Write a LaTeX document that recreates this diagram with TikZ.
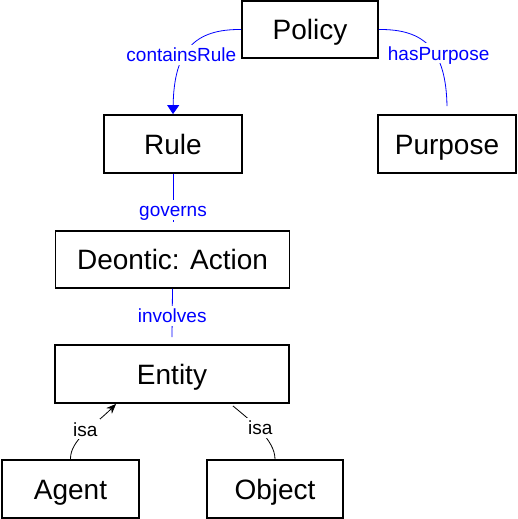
\documentclass[tikz,border=0pt]{standalone}
\usepackage{fontspec}
\setmainfont{Liberation Sans}
\usetikzlibrary{arrows.meta}
\begin{document}
\begin{tikzpicture}[x=1pt,y=-1pt,
  box/.style={draw,line width=1.8pt,fill=white,font=\fontsize{28}{34}\selectfont,inner sep=0pt,text height=20pt,text depth=0pt},
  lab/.style={fill=white,inner sep=3pt,font=\fontsize{19}{23}\selectfont,text height=14pt,text depth=0pt},
  rel/.style={draw=blue,line width=0.8pt},
  bluelab/.style={lab,text=blue},
  isarel/.style={draw=black,line width=0.8pt}]
\useasboundingbox (0,0) rectangle (517,519);
\node[box,minimum width=136pt,minimum height=57pt] (policy) at (310,29.5) {Policy};
\node[box,minimum width=138pt,minimum height=58pt] (rule) at (173,144) {Rule};
\node[box,minimum width=138pt,minimum height=58pt] (purpose) at (447,144) {Purpose};
\node[box,minimum width=234pt,minimum height=57pt] (deontic) at (172.5,259.5) {Deontic: Action};
\node[box,minimum width=234pt,minimum height=58pt] (entity) at (172,374) {Entity};
\node[box,minimum width=137pt,minimum height=58pt] (agent) at (70.5,489) {Agent};
\node[box,minimum width=136pt,minimum height=58pt] (object) at (275,489) {Object};
\coordinate (hpend) at ([yshift=8pt]purpose.north);
\coordinate (gend) at ([yshift=8pt]deontic.north);
\coordinate (iend) at ([yshift=7pt]entity.north);
\coordinate (aend) at ([xshift=62pt]entity.south west);
\coordinate (oend) at ([xshift=-57pt,yshift=-2pt]entity.south east);
\draw[rel,-{Triangle[length=9pt,width=12pt]}] (policy.west) .. controls (195,29) and (174,50) .. (rule.north)
  node[bluelab,pos=0.56,xshift=-5pt,yshift=-2pt] {containsRule};
\draw[rel] (policy.east) .. controls (425,29) and (446,50) .. (hpend)
  node[bluelab,pos=0.56,xshift=5pt,yshift=-2pt] {hasPurpose};
\draw[rel] (rule.south) -- (rule.south |- gend) node[bluelab,pos=0.74] {governs};
\draw[rel] (deontic.south) -- (iend) node[bluelab,pos=0.56] {involves};
\draw[isarel,-{Stealth[length=10pt,width=8pt]}] (agent.north) .. controls (70,440) and (95,425) .. (aend)
  node[lab,pos=0.5,yshift=3pt] {isa};
\draw[isarel] (object.north) .. controls (275,440) and (250,420) .. (oend)
  node[lab,pos=0.5,yshift=3pt] {isa};
\end{tikzpicture}
\end{document}
